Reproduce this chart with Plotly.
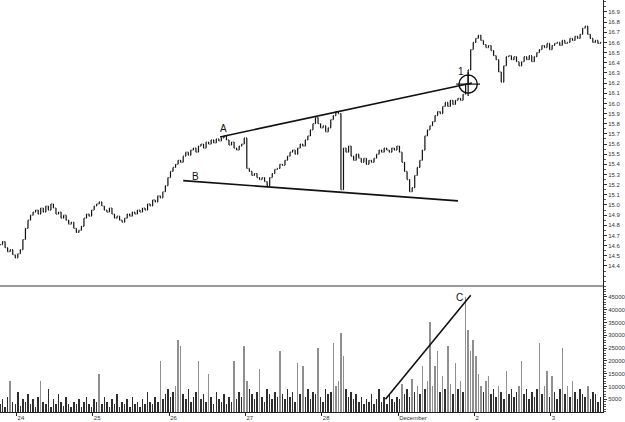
import plotly.graph_objects as go

# ---------------- data ----------------
price_close = [
    14.61, 14.64, 14.58, 14.54, 14.56, 14.51, 14.48, 14.52, 14.56, 14.66,
    14.77, 14.85, 14.90, 14.93, 14.95, 14.91, 14.97, 14.93, 14.99, 14.95,
    15.01, 14.97, 14.91, 14.93, 14.87, 14.90, 14.85, 14.81, 14.83, 14.77,
    14.73, 14.75, 14.79, 14.87, 14.91, 14.89, 14.95, 14.99, 15.01, 15.03,
    14.99, 14.95, 14.93, 14.97, 14.91, 14.87, 14.89, 14.85, 14.83, 14.87,
    14.91, 14.89, 14.93, 14.91, 14.95, 14.93, 14.97, 14.95, 15.01, 14.99,
    15.05, 15.03, 15.09, 15.07, 15.13, 15.19, 15.27, 15.33, 15.37, 15.40,
    15.44, 15.42, 15.48, 15.52, 15.49, 15.54, 15.56, 15.52, 15.58, 15.60,
    15.56, 15.62, 15.60, 15.64, 15.61, 15.65, 15.63, 15.66, 15.68, 15.64,
    15.59, 15.62, 15.56, 15.54, 15.58, 15.60, 15.66, 15.36, 15.33, 15.29,
    15.31, 15.27, 15.25, 15.27, 15.23, 15.19, 15.27, 15.31, 15.35, 15.36,
    15.40, 15.39, 15.44, 15.48, 15.52, 15.54, 15.50, 15.56, 15.60, 15.58,
    15.64, 15.68, 15.74, 15.80, 15.86, 15.80, 15.76, 15.78, 15.72, 15.76,
    15.84, 15.88, 15.92, 15.90, 15.15, 15.56, 15.52, 15.58, 15.48, 15.44,
    15.50, 15.46, 15.42, 15.46, 15.40, 15.44, 15.42, 15.46, 15.50, 15.54,
    15.52, 15.56, 15.54, 15.52, 15.56, 15.54, 15.58, 15.52, 15.42, 15.33,
    15.25, 15.13, 15.17, 15.29, 15.37, 15.44, 15.54, 15.68, 15.74, 15.78,
    15.82, 15.88, 15.92, 15.90, 15.97, 16.01, 15.97, 16.03, 15.99, 16.03,
    16.05, 16.03, 16.09, 16.19, 16.33, 16.53, 16.60, 16.64, 16.67, 16.62,
    16.58, 16.55, 16.57, 16.52, 16.47, 16.43, 16.31, 16.21, 16.37, 16.46,
    16.47, 16.43, 16.46, 16.41, 16.37, 16.41, 16.46, 16.43, 16.47, 16.41,
    16.46, 16.50, 16.53, 16.57, 16.55, 16.59, 16.53, 16.57, 16.59, 16.60,
    16.57, 16.62, 16.59, 16.60, 16.64, 16.62, 16.66, 16.64, 16.68, 16.74,
    16.76, 16.68, 16.64, 16.60, 16.62, 16.59, 16.60,
]

volume = [
    3000, 5000, 2000, 6000, 12000, 4000, 3000, 8000, 2500, 5000,
    4000, 7000, 3000, 5000, 2000, 6000, 12000, 4000, 3000, 9000,
    2000, 5000, 3000, 7000, 4000, 2500, 6000, 3000, 2000, 4000,
    3000, 5000, 2000, 4000, 6000, 3000, 2000, 5000, 4000, 15000,
    3000, 6000, 4000, 2000, 5000, 3000, 7000, 2000, 4000, 3000,
    5000, 2000, 6000, 3000, 4000, 2000, 5000, 3000, 8000, 4000,
    3000, 6000, 4000, 20000, 5000, 7000, 9000, 6000, 8000, 10000,
    28000, 26000, 7000, 5000, 9000, 4000, 6000, 8000, 20000, 5000,
    7000, 4000, 15000, 6000, 3000, 8000, 5000, 4000, 7000, 3000,
    6000, 4000, 20000, 5000, 8000, 6000, 26000, 12000, 9000, 7000,
    5000, 8000, 17000, 6000, 4000, 9000, 7000, 5000, 8000, 6000,
    24000, 7000, 5000, 9000, 6000, 8000, 4000, 19000, 7000, 18000,
    6000, 9000, 5000, 8000, 7000, 25000, 6000, 4000, 9000, 7000,
    8000, 27000, 10000, 12000, 31000, 22000, 9000, 6000, 8000, 5000,
    7000, 4000, 6000, 3000, 5000, 4000, 7000, 3000, 5000, 9000,
    4000, 6000, 3000, 7000, 5000, 4000, 6000, 5000, 11000, 7000,
    9000, 6000, 13000, 8000, 10000, 7000, 18000, 9000, 12000, 35000,
    10000, 18000, 24000, 8000, 14000, 9000, 26000, 11000, 7000, 19000,
    9000, 12000, 8000, 45000, 32000, 24000, 28000, 22000, 15000, 10000,
    8000, 12000, 14000, 7000, 9000, 6000, 10000, 8000, 5000, 16000,
    7000, 9000, 6000, 8000, 10000, 20000, 7000, 9000, 5000, 8000,
    6000, 9000, 27000, 7000, 10000, 16000, 6000, 14000, 8000, 5000,
    9000, 25000, 7000, 10000, 6000, 12000, 8000, 5000, 9000, 7000,
    6000, 10000, 5000, 8000, 7000, 4000, 6000,
]

day_start_bar = [6.5, 36.5, 66.5, 96.5, 126.5, 156.5, 186.5, 216.5]
day_labels = ["24", "25", "26", "27", "28", "December", "2", "3"]

price_ticks = [round(14.4 + 0.1 * i, 1) for i in range(26)]
volume_ticks = [5000, 10000, 15000, 20000, 25000, 30000, 35000, 40000, 45000]

# trend lines (bar index, price) and annotation anchors
line_a = [(86.5, 15.67), (185.5, 16.20)]
line_b = [(72.0, 15.24), (180.0, 15.04)]
breakout = (184.0, 16.19)
line_c = [(151.5, 5000), (185.0, 45700)]
labels_price = [("A", 88.0, 15.75), ("B", 77.0, 15.28), ("1", 181.0, 16.31)]
labels_vol = [("C", 180.5, 44800)]

bars = list(range(len(price_close)))
opens = [price_close[0]] + price_close[:-1]
highs = [max(o, c) for o, c in zip(opens, price_close)]
lows = [min(o, c) for o, c in zip(opens, price_close)]

fig = go.Figure()
fig.add_trace(go.Ohlc(
    x=bars, open=opens, high=highs, low=lows, close=price_close,
    increasing=dict(line=dict(color="#111111", width=1.2)),
    decreasing=dict(line=dict(color="#111111", width=1.2)),
    tickwidth=0.3, xaxis="x", yaxis="y", hoverinfo="skip", showlegend=False))

vol_colors = ["#8f8f8f" if v > 9000 else "#2e2e2e" for v in volume]
fig.add_trace(go.Bar(
    x=list(range(len(volume))), y=volume, width=0.6,
    marker=dict(color=vol_colors, line=dict(width=0)),
    xaxis="x2", yaxis="y2", hoverinfo="skip", showlegend=False))

XR = [0, 237]
split = 0.306

shapes = []
shapes.append(dict(type="line", xref="x", yref="y",
                   x0=line_a[0][0], y0=line_a[0][1], x1=line_a[1][0], y1=line_a[1][1],
                   line=dict(color="#111111", width=1.6)))
shapes.append(dict(type="line", xref="x", yref="y",
                   x0=line_b[0][0], y0=line_b[0][1], x1=line_b[1][0], y1=line_b[1][1],
                   line=dict(color="#111111", width=1.6)))
rx, ry = 3.6, 0.09
shapes.append(dict(type="circle", xref="x", yref="y",
                   x0=breakout[0] - rx, x1=breakout[0] + rx,
                   y0=breakout[1] - ry, y1=breakout[1] + ry,
                   line=dict(color="#111111", width=1.4)))
shapes.append(dict(type="line", xref="x", yref="y",
                   x0=breakout[0] - rx * 1.3, x1=breakout[0] + rx * 1.3,
                   y0=breakout[1], y1=breakout[1], line=dict(color="#111111", width=1.2)))
shapes.append(dict(type="line", xref="x", yref="y",
                   x0=breakout[0], x1=breakout[0],
                   y0=breakout[1] - ry * 1.3, y1=breakout[1] + ry * 1.3,
                   line=dict(color="#111111", width=1.2)))
shapes.append(dict(type="line", xref="x2", yref="y2",
                   x0=line_c[0][0], y0=line_c[0][1], x1=line_c[1][0], y1=line_c[1][1],
                   line=dict(color="#111111", width=1.6)))
shapes.append(dict(type="line", xref="paper", yref="paper",
                   x0=0, x1=1, y0=split, y1=split,
                   line=dict(color="#999999", width=2)))

annotations = []
for t, xx, yy in labels_price:
    annotations.append(dict(text=t, x=xx, y=yy, xref="x", yref="y", showarrow=False,
                            font=dict(size=10, color="#111111", family="Liberation Sans, Arial")))
for t, xx, yy in labels_vol:
    annotations.append(dict(text=t, x=xx, y=yy, xref="x2", yref="y2", showarrow=False,
                            font=dict(size=10, color="#111111", family="Liberation Sans, Arial")))

tickfont = dict(size=6, color="#333333", family="Liberation Sans, Arial")

fig.update_layout(
    width=625, height=422,
    margin=dict(l=0, r=22, t=0, b=10),
    paper_bgcolor="white", plot_bgcolor="white",
    showlegend=False, bargap=0,
    shapes=shapes, annotations=annotations,
    xaxis=dict(domain=[0, 1], range=XR, anchor="y", showticklabels=False,
               showgrid=False, zeroline=False, showline=False, ticks="",
               rangeslider=dict(visible=False), matches="x2"),
    xaxis2=dict(domain=[0, 1], range=XR, anchor="y2", showgrid=False, zeroline=False,
                showline=True, linecolor="#222222", linewidth=1,
                tickmode="array", tickvals=day_start_bar, ticktext=day_labels,
                ticklabelposition="outside right", ticklabeloverflow="allow",
                tickfont=tickfont, ticks="outside", ticklen=3, tickcolor="#222222"),
    yaxis=dict(domain=[split, 1], range=[14.203, 17.018], side="right",
               tickmode="array", tickvals=price_ticks, ticktext=[f"{v:.1f}" for v in price_ticks],
               ticks="outside", ticklen=3, tickcolor="#333333", tickfont=tickfont,
               ticklabeloverflow="allow",
               minor=dict(dtick=0.05, ticks="outside", ticklen=2, tickcolor="#555555"),
               showgrid=False, zeroline=False, showline=True, linecolor="#222222",
               linewidth=1),
    yaxis2=dict(domain=[0, split], range=[0, 49300], side="right",
                tickmode="array", tickvals=volume_ticks, ticktext=[str(v) for v in volume_ticks],
                ticks="outside", ticklen=3, tickcolor="#333333", tickfont=tickfont,
                ticklabeloverflow="allow",
                minor=dict(dtick=1000, ticks="outside", ticklen=2, tickcolor="#555555"),
                showgrid=False, zeroline=False, showline=True, linecolor="#222222",
                linewidth=1),
)

fig.write_html(
    "out.html",
    config={"displayModeBar": False, "staticPlot": True},
    post_script="document.body.style.margin='0';document.body.style.padding='0';"
                "document.body.style.overflow='hidden';",
)
